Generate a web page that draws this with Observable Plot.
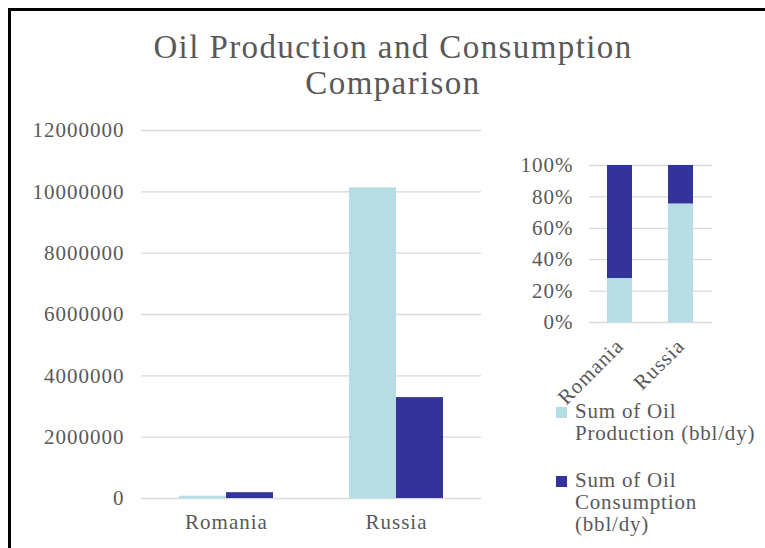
<!DOCTYPE html>
<html>
<head>
<meta charset="utf-8">
<script src="https://cdn.jsdelivr.net/npm/d3@7"></script>
<script src="https://cdn.jsdelivr.net/npm/@observablehq/plot@0.6"></script>
<style>
  html, body { margin: 0; padding: 0; background: #fff; }
  #page { position: relative; width: 765px; height: 548px; overflow: hidden; font-family: "Liberation Serif", "Times New Roman", serif; color: #595959; }
  #frame { position: absolute; left: 8px; top: 8px; width: 800px; height: 600px; border-left: 3px solid #000; border-top: 3px solid #000; }
  #title { position: absolute; left: 0; top: 29px; width: 786px; text-align: center; font-size: 33px; line-height: 36px; letter-spacing: 1.4px; color: #595959; }
  #main { position: absolute; left: 10px; top: 110px; }
  #pct { position: absolute; left: 500px; top: 140px; }
  #main svg text, #pct svg text { letter-spacing: 1px; }
  .leg { position: absolute; left: 575px; width: 192px; font-size: 21px; line-height: 22px; letter-spacing: 0.8px; color: #595959; }
  .sw { position: absolute; left: 556px; width: 11px; height: 11px; }
</style>
</head>
<body>
<div id="page">
  <div id="frame"></div>
  <div id="title">Oil Production and Consumption<br>Comparison</div>
  <div id="main"></div>
  <div id="pct"></div>
  <div id="legend"></div>
</div>
<script>
const countries = ["Romania", "Russia"];
const production = [74000, 10130000];
const consumption = [190000, 3290000];
const seriesNames = ["Sum of Oil Production (bbl/dy)", "Sum of Oil Consumption (bbl/dy)"];
const seriesColors = ["#b6dde3", "#333399"];
const yTicks = [0, 2000000, 4000000, 6000000, 8000000, 10000000, 12000000];
const pctTicks = [0, 0.2, 0.4, 0.6, 0.8, 1];

const data = countries.flatMap((c, i) => [
  {country: c, series: seriesNames[0], value: production[i]},
  {country: c, series: seriesNames[1], value: consumption[i]}
]);

const baseStyle = {fontFamily: "'Liberation Serif', 'Times New Roman', serif", fontSize: "21px", color: "#595959", background: "transparent", overflow: "visible"};

const main = Plot.plot({
  width: 490, height: 438,
  marginTop: 20, marginBottom: 50, marginLeft: 130, marginRight: 19,
  style: baseStyle,
  fx: {domain: countries, padding: 0, label: null, axis: "bottom", tickSize: 0, tickPadding: 16},
  x: {domain: seriesNames, axis: null, paddingInner: 0, paddingOuter: 0.8},
  y: {domain: [0, 12000000], ticks: yTicks, tickFormat: d => String(d), tickSize: 0, tickPadding: 17, label: null},
  color: {domain: seriesNames, range: seriesColors},
  marks: [
    Plot.gridY(yTicks, {stroke: "#d9d9d9", strokeOpacity: 1, strokeWidth: 1.3}),
    Plot.barY(data, {fx: "country", x: "series", y: "value", fill: "series"})
  ]
});
document.getElementById("main").appendChild(main);

const pct = Plot.plot({
  width: 230, height: 270,
  marginTop: 25, marginBottom: 88, marginLeft: 89, marginRight: 18,
  style: baseStyle,
  x: {domain: countries, paddingInner: 0.59, paddingOuter: 0.3, label: null, tickSize: 0, tickPadding: 20, tickRotate: -45},
  y: {domain: [0, 1], ticks: pctTicks, tickFormat: d3.format(".0%"), tickSize: 0, tickPadding: 16, label: null},
  color: {domain: seriesNames, range: seriesColors},
  marks: [
    Plot.gridY(pctTicks, {stroke: "#d9d9d9", strokeOpacity: 1, strokeWidth: 1.3}),
    Plot.barY(data, {x: "country", y: "value", fill: "series", offset: "normalize", order: seriesNames})
  ]
});
document.getElementById("pct").appendChild(pct);

const legend = document.getElementById("legend");
const legTops = [400, 469];
seriesNames.forEach((name, i) => {
  const sw = document.createElement("div");
  sw.className = "sw";
  sw.style.top = (legTops[i] + 7) + "px";
  sw.style.background = seriesColors[i];
  legend.appendChild(sw);
  const t = document.createElement("div");
  t.className = "leg";
  t.style.top = legTops[i] + "px";
  t.textContent = name;
  legend.appendChild(t);
});
</script>
</body>
</html>
